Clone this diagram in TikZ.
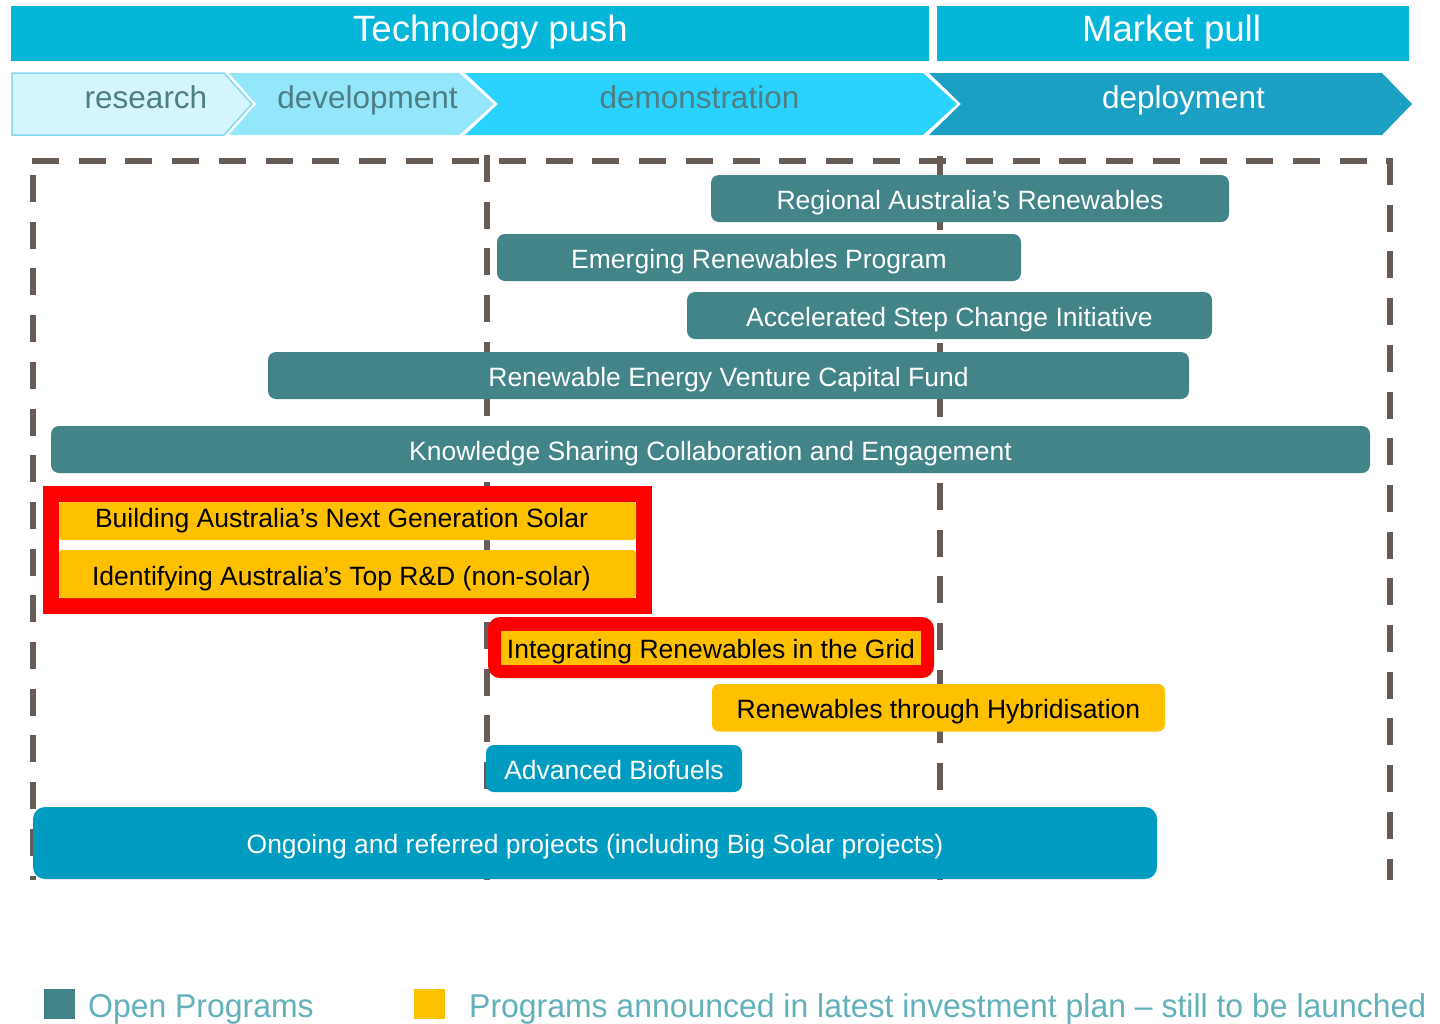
\documentclass[tikz,border=0pt]{standalone}
\usepackage{fontspec}
\setmainfont{Liberation Sans}
\newfontfamily\legfont[FakeStretch=0.968]{Liberation Sans}
\definecolor{hdr}{HTML}{05B6D9}
\definecolor{resc}{HTML}{D5F5FD}
\definecolor{resb}{HTML}{86D6EE}
\definecolor{devc}{HTML}{94E7FB}
\definecolor{demc}{HTML}{2AD3FD}
\definecolor{depc}{HTML}{1BA0C4}
\definecolor{chtxt}{HTML}{4D7E84}
\definecolor{frame}{HTML}{675B56}
\definecolor{tealbar}{HTML}{438488}
\definecolor{yelbar}{HTML}{FFC000}
\definecolor{bluebar}{HTML}{009BC1}
\definecolor{legtxt}{HTML}{62B1BA}
\begin{document}
\begin{tikzpicture}[x=1pt,y=-1pt,
  band/.style={fill=hdr, draw=none, inner sep=0pt},
  hdrtext/.style={anchor=base, text=white, font=\fontsize{36.6}{40}\selectfont},
  chtext/.style={anchor=base, font=\fontsize{31.5}{36}\selectfont},
  dashline/.style={draw=frame, line width=6pt, dash pattern=on 27pt off 19.7pt},
  barbase/.style={rectangle, inner sep=0pt, text height=21pt, text depth=0pt,
    font=\fontsize{26.5}{30}\selectfont},
  openbar/.style={barbase, fill=tealbar, rounded corners=8pt, text=white, minimum height=47pt},
  newbar/.style={barbase, fill=yelbar, rounded corners=3pt, text=black},
  bluebox/.style={barbase, fill=bluebar, rounded corners=8pt, text=white},
  legsq/.style={rectangle, inner sep=0pt, minimum width=31pt, minimum height=30pt},
  legtext/.style={anchor=base west, inner sep=0pt, text=legtxt, font=\legfont\fontsize{33}{38}\selectfont}
]
\useasboundingbox (0,0) rectangle (1440,1023);

% header bands
\node[band, minimum width=918pt, minimum height=55pt] (tpush) at (469.5,33.5) {};
\node[band, minimum width=472pt, minimum height=55pt] (mpull) at (1173,33.5) {};
\node[hdrtext] (tpushtxt) at (490.5,41) {Technology push};
\node[hdrtext] (mpulltxt) at (1171.5,41) {Market pull};

% chevrons
\draw[fill=resc, draw=resb, line width=1.5pt] (12,73) -- (224,73) -- (252,104) -- (224,135) -- (12,135) -- cycle;
\draw[fill=devc, draw=none] (229,73) -- (459,73) -- (494,104) -- (459,135) -- (229,135) -- (256,104) -- cycle;
\draw[fill=demc, draw=none] (465,73) -- (923,73) -- (957,104) -- (923,135) -- (465,135) -- (498,104) -- cycle;
\draw[fill=depc, draw=none] (929,73) -- (1382,73) -- (1412,104) -- (1382,135) -- (929,135) -- (961,104) -- cycle;
\node[chtext, text=chtxt] (research) at (146,108) {research};
\node[chtext, text=chtxt] (development) at (367.5,108) {development};
\node[chtext, text=chtxt] (demonstration) at (699.5,108) {demonstration};
\node[chtext, text=white] (deployment) at (1183.5,108) {deployment};

% dashed frame
\coordinate (ftl) at (32,161);
\coordinate (ftr) at (1391,161);
\coordinate (fl0) at (32.5,175);
\coordinate (fl1) at (32.5,880);
\coordinate (fr0) at (1390,158);
\coordinate (fr1) at (1390,880);
\coordinate (fa0) at (487,155);
\coordinate (fa1) at (487,880);
\coordinate (fb0) at (940,156);
\coordinate (fb1) at (940,880);
\draw[dashline] (ftl) -- (ftr);
\draw[dashline] (fl0) -- (fl1);
\draw[dashline] (fr0) -- (fr1);
\draw[dashline] (fa0) -- (fa1);
\draw[dashline] (fb0) -- (fb1);

% open programs
\node[openbar, minimum width=518pt] (rar) at (970,198.5) {Regional Australia’s Renewables};
\node[openbar, minimum width=524pt] (erp) at (759,257.5) {Emerging Renewables Program};
\node[openbar, minimum width=525pt] (asci) at (949.5,315.5) {Accelerated Step Change Initiative};
\node[openbar, minimum width=921pt] (revcf) at (728.5,375.5) {Renewable Energy Venture Capital Fund};
\node[openbar, minimum width=1319pt] (ksce) at (710.5,449.5) {Knowledge Sharing Collaboration and Engagement};

% new programs
\node[draw=red, line width=16pt, rectangle, minimum width=593pt, minimum height=112pt, inner sep=0pt] (redbox) at (347.5,550) {};
\node[newbar, text height=12pt, minimum width=577pt, minimum height=38pt] (bans) at (347.5,521) {\hspace*{-12pt}Building Australia’s Next Generation Solar};
\node[newbar, text height=22pt, minimum width=577pt, minimum height=48pt] (iatr) at (347.5,574) {\hspace*{-12pt}Identifying Australia’s Top R\&D (non-solar)};
\node[rectangle, fill=red, rounded corners=12pt, minimum width=446pt, minimum height=61pt, inner sep=0pt] (redgrid) at (711,647.5) {};
\node[barbase, fill=yelbar, text=black, minimum width=420pt, minimum height=34pt] (irg) at (711,648) {Integrating Renewables in the Grid};
\node[newbar, rounded corners=7pt, minimum width=453pt, minimum height=47.5pt] (rth) at (938.5,707.75) {Renewables through Hybridisation};

% blue
\node[bluebox, minimum width=256pt, minimum height=47pt] (abf) at (614,768.5) {Advanced Biofuels};
\node[bluebox, rounded corners=12pt, minimum width=1124pt, minimum height=72pt] (ongo) at (595,843) {Ongoing and referred projects (including Big Solar projects)};

% legend
\node[legsq, fill=tealbar] (legopen) at (59.5,1004) {};
\node[legsq, fill=yelbar] (legnew) at (429.5,1004) {};
\node[legtext] (legopentxt) at (88,1017) {Open Programs};
\node[legtext] (legnewtxt) at (469,1017) {Programs announced in latest investment plan – still to be launched};
\end{tikzpicture}
\end{document}
